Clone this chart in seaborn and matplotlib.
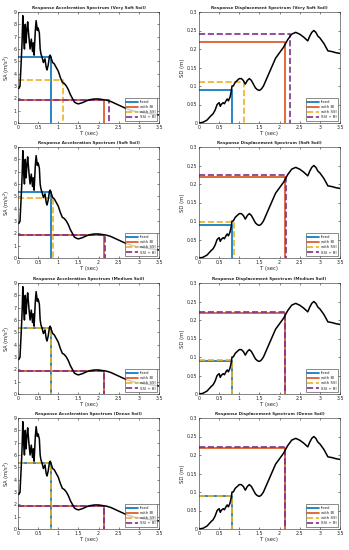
import numpy as np
import pandas as pd
import seaborn as sns
import matplotlib.pyplot as plt

# period axis (sec) and spectra
T = [0, 0.02, 0.05, 0.08, 0.1, 0.12, 0.14, 0.16, 0.18, 0.2, 0.22, 0.24, 0.27, 0.3,
     0.33, 0.36, 0.38, 0.4, 0.43, 0.45, 0.48, 0.5, 0.53, 0.55, 0.57, 0.6, 0.63, 0.67,
     0.7, 0.72, 0.75, 0.78, 0.8, 0.83, 0.86, 0.9, 0.95, 1.0, 1.05, 1.1, 1.15, 1.2,
     1.25, 1.3, 1.35, 1.4, 1.45, 1.5, 1.6, 1.7, 1.8, 1.9, 2.0, 2.1, 2.2, 2.3, 2.4,
     2.5, 2.6, 2.7, 2.8, 2.9, 3.0, 3.1, 3.2, 3.3, 3.4, 3.5]
SA = [2.8, 2.8, 3.0, 5.0, 6.5, 8.7, 7.0, 6.0, 8.0, 6.5, 7.5, 8.2, 7.0, 6.0,
      6.8, 5.8, 6.5, 5.5, 7.5, 8.3, 7.5, 7.7, 7.3, 6.0, 5.6, 5.3, 4.9, 5.2,
      4.5, 4.3, 4.7, 5.4, 5.5, 5.2, 4.9, 4.8, 4.5, 4.2, 3.7, 3.3, 3.2, 3.0,
      2.7, 2.3, 2.0, 1.7, 1.6, 1.55, 1.65, 1.8, 1.9, 1.95, 1.95, 1.9, 1.85, 1.75, 1.6,
      1.45, 1.3, 1.15, 1.05, 0.95, 0.9, 0.85, 0.8, 0.75, 0.7, 0.65]

T_sd = [0, 0.1, 0.2, 0.3, 0.35, 0.4, 0.45, 0.5, 0.53, 0.55, 0.6, 0.63, 0.67, 0.7,
        0.73, 0.77, 0.8, 0.82, 0.85, 0.9, 0.95, 1.0, 1.05, 1.1, 1.15, 1.2, 1.25,
        1.3, 1.35, 1.4, 1.45, 1.5, 1.55, 1.6, 1.7, 1.8, 1.9, 2.0, 2.1, 2.2, 2.3,
        2.4, 2.5, 2.6, 2.7, 2.75, 2.8, 2.85, 2.9, 2.95, 3.0, 3.1, 3.2, 3.3, 3.4, 3.5]
SD = [0, 0.002, 0.008, 0.02, 0.025, 0.035, 0.05, 0.055, 0.045, 0.05, 0.055, 0.052,
      0.06, 0.065, 0.06, 0.07, 0.085, 0.1, 0.1, 0.11, 0.115, 0.12, 0.12, 0.115,
      0.105, 0.115, 0.12, 0.115, 0.105, 0.095, 0.09, 0.088, 0.092, 0.1, 0.125,
      0.15, 0.175, 0.19, 0.205, 0.225, 0.24, 0.245, 0.24, 0.232, 0.222, 0.235,
      0.245, 0.25, 0.245, 0.235, 0.23, 0.215, 0.195, 0.193, 0.19, 0.188]

soils = ["Very Soft Soil", "Soft Soil", "Medium Soil", "Dense Soil"]
cases = ["fixed", "with BI", "with SSI", "SSI + BI"]
colors = ["#0072BD", "#D95319", "#EDB120", "#7E2F8E"]
dashes = ["-", "-", "--", "--"]

# fundamental period for each case per soil
periods = {
    "Very Soft Soil": [0.81, 2.13, 1.12, 2.27],
    "Soft Soil": [0.81, 2.13, 0.86, 2.15],
    "Medium Soil": [0.81, 2.13, 0.82, 2.14],
    "Dense Soil": [0.81, 2.13, 0.815, 2.135],
}
sa_vals = {
    "Very Soft Soil": [5.35, 1.9, 3.45, 1.85],
    "Soft Soil": [5.35, 1.9, 4.85, 1.9],
    "Medium Soil": [5.35, 1.9, 5.38, 1.9],
    "Dense Soil": [5.35, 1.9, 5.37, 1.9],
}
sd_vals = {
    "Very Soft Soil": [0.09, 0.22, 0.11, 0.24],
    "Soft Soil": [0.09, 0.22, 0.097, 0.225],
    "Medium Soil": [0.09, 0.22, 0.091, 0.222],
    "Dense Soil": [0.09, 0.22, 0.0905, 0.221],
}

sns.set_style("ticks")
plt.rcParams["font.family"] = ["DejaVu Sans"]
plt.rcParams["xtick.direction"] = "in"
plt.rcParams["ytick.direction"] = "in"

fig = plt.figure(figsize=(3.49, 5.50), dpi=100)
W, H = 349, 550
tops = [12, 147, 283, 418]
lefts = [18, 199]
aw, ah = 141, 111

df_sa = pd.DataFrame({"T": T, "SA": SA})
df_sd = pd.DataFrame({"T": T_sd, "SD": SD})


def draw_panel(ax, df, col, vals, per, ymax, ystep, ylabel, title):
    for i, c in enumerate(cases):
        d = pd.DataFrame({"x": [0, per[i], per[i]], "y": [vals[i], vals[i], 0]})
        sns.lineplot(data=d, x="x", y="y", ax=ax, color=colors[i], linestyle=dashes[i],
                     lw=1.2, sort=False, estimator=None, label=c)
    sns.lineplot(data=df, x="T", y=col, ax=ax, color="black", lw=1.1,
                 sort=False, estimator=None, legend=False)
    ax.set_xlim(0, 3.5)
    ax.set_ylim(0, ymax)
    ax.set_xticks(np.arange(0, 3.51, 0.5))
    ax.set_xticklabels(["0", "0.5", "1", "1.5", "2", "2.5", "3", "3.5"])
    ax.set_yticks(np.arange(0, ymax + 1e-9, ystep))
    ax.tick_params(labelsize=3.4, length=1.5, width=0.4, pad=1.2, top=True, right=True)
    for s in ax.spines.values():
        s.set_linewidth(0.4)
    ax.set_xlabel("T (sec)", fontsize=3.8, labelpad=1)
    ax.set_ylabel(ylabel, fontsize=3.8, labelpad=1)
    ax.set_title(title, fontsize=3.0, fontweight="bold", pad=2)
    ax.legend(loc="lower right", fontsize=2.8, frameon=True, fancybox=False,
              edgecolor="black", handlelength=3, borderpad=0.4, labelspacing=0.3,
              handletextpad=0.5, borderaxespad=0.5).get_frame().set_linewidth(0.4)


for r, soil in enumerate(soils):
    b = 1 - (tops[r] + ah) / H
    ax1 = fig.add_axes([lefts[0] / W, b, aw / W, ah / H])
    draw_panel(ax1, df_sa, "SA", sa_vals[soil], periods[soil], 9, 1,
               "SA (m/s$^2$)", f"Response Acceleration Spectrum ({soil})")
    ax1.set_yticklabels([str(v) for v in range(10)])
    ax2 = fig.add_axes([lefts[1] / W, b, aw / W, ah / H])
    draw_panel(ax2, df_sd, "SD", sd_vals[soil], periods[soil], 0.3, 0.05,
               "SD (m)", f"Response Displacement Spectrum ({soil})")
    ax2.set_yticklabels(["0", "0.05", "0.1", "0.15", "0.2", "0.25", "0.3"])

fig.savefig("out.png", dpi=100)
